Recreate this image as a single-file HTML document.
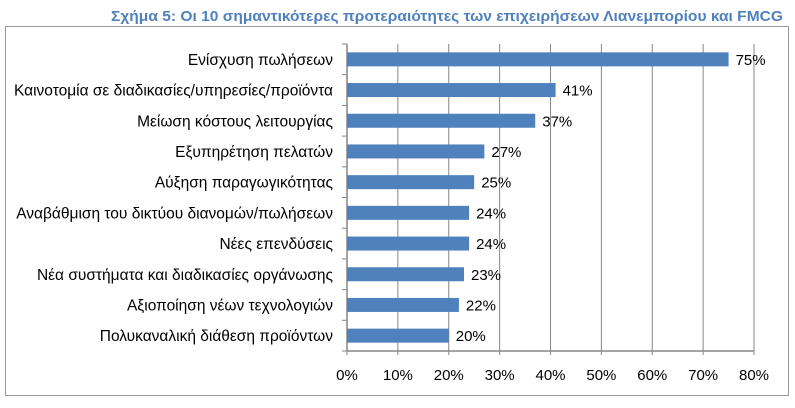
<!DOCTYPE html>
<html><head><meta charset="utf-8"><style>
body{margin:0;background:#fff;width:795px;height:403px;overflow:hidden;font-family:"Liberation Sans",sans-serif}
</style></head><body>
<svg width="795" height="403">
<text x="447" y="21" text-anchor="middle" font-size="15" font-weight="bold" fill="#4f81bd" textLength="672" lengthAdjust="spacingAndGlyphs">Σχήμα 5: Οι 10 σημαντικότερες προτεραιότητες των επιχειρήσεων Λιανεμπορίου και FMCG</text>
<rect x="5.5" y="26.5" width="783" height="369" fill="#fff" stroke="#999"/>
<g id="g"></g>
</svg>
<script>
const categories=["Ενίσχυση πωλήσεων","Καινοτομία σε διαδικασίες/υπηρεσίες/προϊόντα","Μείωση κόστους λειτουργίας","Εξυπηρέτηση πελατών","Αύξηση παραγωγικότητας","Αναβάθμιση του δικτύου διανομών/πωλήσεων","Νέες επενδύσεις","Νέα συστήματα και διαδικασίες οργάνωσης","Αξιοποίηση νέων τεχνολογιών","Πολυκαναλική διάθεση προϊόντων"];
const values=[75,41,37,27,25,24,24,23,22,20];
const ticks=[0,10,20,30,40,50,60,70,80];
const NS="http://www.w3.org/2000/svg",g=document.getElementById('g');
const x0=347,x1=754,yT=44,yB=351,max=80;
const xs=v=>x0+(x1-x0)*v/max;
const band=(yB-yT)/categories.length;
function mk(t,a,txt){const e=document.createElementNS(NS,t);for(const k in a)e.setAttribute(k,a[k]);if(txt!=null)e.textContent=txt;g.appendChild(e);return e;}
ticks.forEach(t=>{
 const l=mk('line',{x1:xs(t),x2:xs(t),y1:yT,y2:yB+4,stroke:'#868686','stroke-width':1});
 
 
 const tx=mk('text',{x:xs(t),y:yB+29,'text-anchor':'middle','font-size':15,fill:'#000'},t+'%');
 
 
});
const ax=mk('line',{x1:x0,x2:x1,y1:yB,y2:yB,stroke:'#868686','stroke-width':1.5});


const ay=mk('line',{x1:x0,x2:x0,y1:yT,y2:yB,stroke:'#868686','stroke-width':1.5});


for(let i=0;i<=categories.length;i++){const k=mk('line',{x1:x0-5,x2:x0,y1:yT+i*band,y2:yT+i*band,stroke:'#868686'});
 
 }
categories.forEach((c,i)=>{
 const cy=yT+band*(i+0.5);
 const b=mk('rect',{x:x0,y:cy-7,width:xs(values[i])-x0,height:14,fill:'#4f81bd'});
 
 
 const lb=mk('text',{x:333,y:cy+5.5,'text-anchor':'end','font-size':15.5,fill:'#000'},c);
 
 
 const v=mk('text',{x:xs(values[i])+7,y:cy+5.5,'font-size':15,fill:'#000'},values[i]+'%');
 
 
});
</script>
</body></html>
